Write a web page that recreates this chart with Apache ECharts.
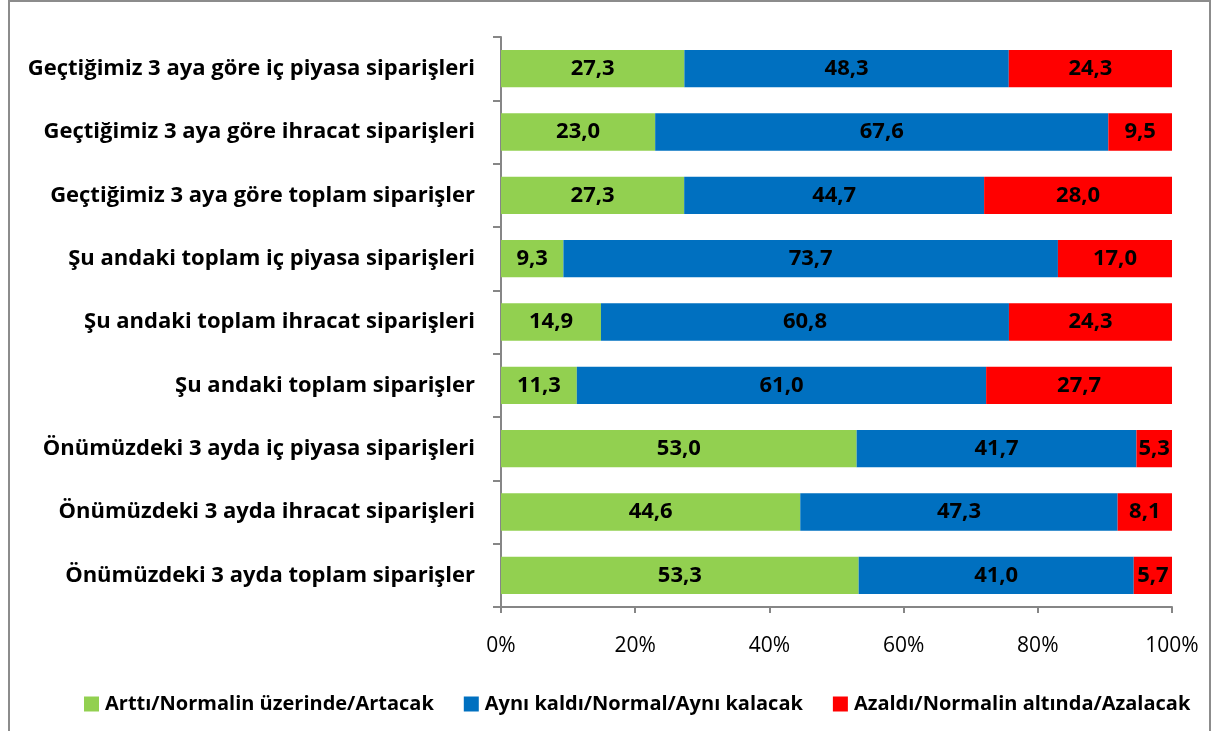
<!DOCTYPE html>
<html>
<head>
<meta charset="utf-8">
<script src="https://cdn.jsdelivr.net/npm/echarts@6/dist/echarts.min.js"></script>
<style>
  html, body { margin: 0; padding: 0; background: #fff; }
  #frame {
    position: absolute; left: 8px; top: 0; width: 1203px; height: 740px;
    border: 2px solid #8c8c8c; box-sizing: border-box;
  }
  #chart { position: absolute; left: 0; top: 0; width: 1219px; height: 731px; }
</style>
</head>
<body>
<div id="frame"></div>
<div id="chart"></div>
<script>
// Kategoriler ve seriler
const categories = [
  'Geçtiğimiz 3 aya göre iç piyasa siparişleri',
  'Geçtiğimiz 3 aya göre ihracat siparişleri',
  'Geçtiğimiz 3 aya göre toplam siparişler',
  'Şu andaki toplam iç piyasa siparişleri',
  'Şu andaki toplam ihracat siparişleri',
  'Şu andaki toplam siparişler',
  'Önümüzdeki 3 ayda iç piyasa siparişleri',
  'Önümüzdeki 3 ayda ihracat siparişleri',
  'Önümüzdeki 3 ayda toplam siparişler'
]
const seriesNames = [
  'Arttı/Normalin üzerinde/Artacak',
  'Aynı kaldı/Normal/Aynı kalacak',
  'Azaldı/Normalin altında/Azalacak'
]
const artti = [27.3, 23.0, 27.3, 9.3, 14.9, 11.3, 53.0, 44.6, 53.3]
const ayni = [48.3, 67.6, 44.7, 73.7, 60.8, 61.0, 41.7, 47.3, 41.0]
const azaldi = [24.3, 9.5, 28.0, 17.0, 24.3, 27.7, 5.3, 8.1, 5.7]
const colors = ['#92D050', '#0070C0', '#FF0000']

const raw = [artti, ayni, azaldi]
const totals = categories.map((c, i) => artti[i] + ayni[i] + azaldi[i])

const chart = echarts.init(document.getElementById('chart'))
const fontFamily = '"Open Sans", "Liberation Sans", sans-serif'

const option = {
  animation: false,
  grid: { left: 501, right: 47, top: 37, bottom: 124 },
  legend: {
    top: 689,
    left: 79,
    itemWidth: 15,
    itemHeight: 15,
    itemGap: 30,
    icon: 'rect',
    textStyle: { fontFamily, fontSize: 20, fontWeight: 'bold', color: '#000', padding: [0, 0, 0, 1] },
    data: seriesNames
  },
  xAxis: {
    type: 'value',
    min: 0,
    max: 100,
    interval: 20,
    splitLine: { show: false },
    axisLine: { show: true, lineStyle: { color: '#868686', width: 2 } },
    axisTick: { show: true, length: 6, lineStyle: { color: '#868686', width: 2 } },
    axisLabel: {
      formatter: '{value}%',
      fontFamily, fontSize: 21, color: '#000', margin: 29
    }
  },
  yAxis: {
    type: 'category',
    inverse: true,
    data: categories,
    axisLine: { show: true, lineStyle: { color: '#868686', width: 2 } },
    axisTick: { show: true, length: 8, lineStyle: { color: '#868686', width: 2 } },
    axisLabel: {
      fontFamily, fontSize: 22, fontWeight: 'bold', color: '#000', margin: 26
    }
  },
  series: raw.map((vals, s) => ({
    name: seriesNames[s],
    type: 'bar',
    stack: 'total',
    barCategoryGap: '41%',
    itemStyle: { color: colors[s] },
    label: {
      show: true,
      position: 'inside',
      fontFamily, fontSize: 22, fontWeight: 'bold', color: '#000',
      formatter: p => vals[p.dataIndex].toFixed(1).replace('.', ',')
    },
    data: vals.map((v, i) => v / totals[i] * 100)
  }))
}

chart.setOption(option)
</script>
</body>
</html>
